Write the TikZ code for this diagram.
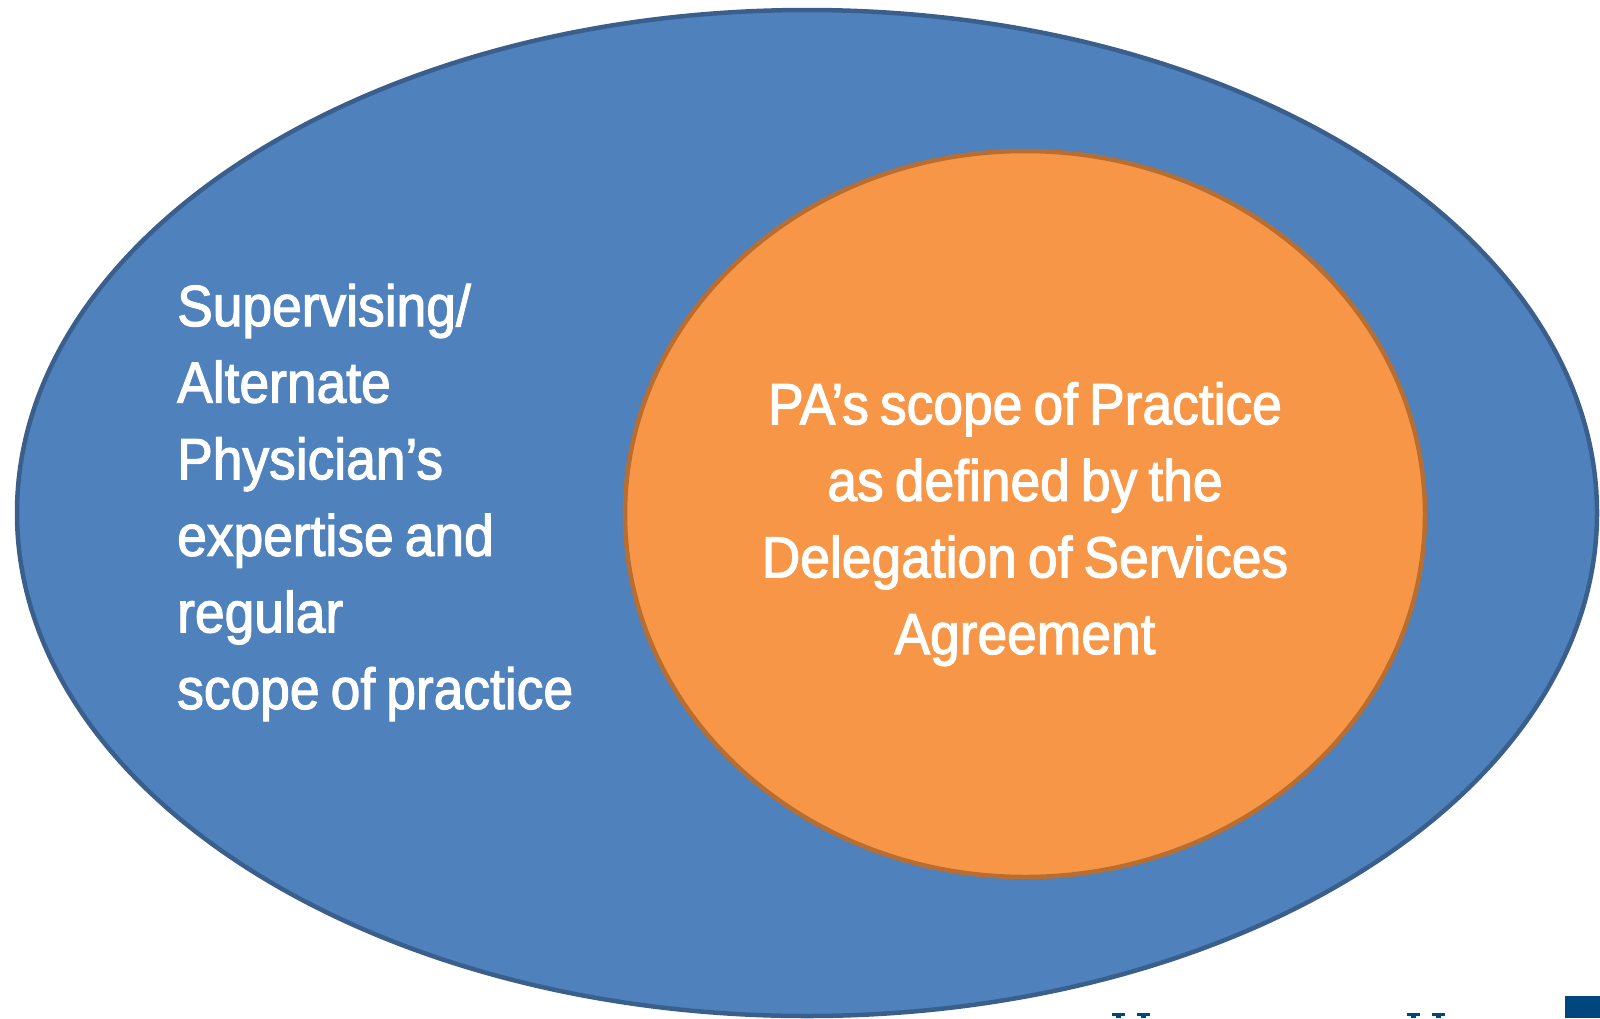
\documentclass[tikz,border=0pt]{standalone}
\usepackage{fontspec}
\usetikzlibrary{shapes.geometric}
\newfontfamily\labelfont{Liberation Sans}[FakeStretch=0.92,FakeBold=2,WordSpace=0.75]
\definecolor{outerfill}{HTML}{4F81BD}
\definecolor{outerline}{HTML}{3A5F8D}
\definecolor{innerfill}{HTML}{F79646}
\definecolor{innerline}{HTML}{B86D31}
\definecolor{logoblue}{HTML}{00467F}
\begin{document}
\begin{tikzpicture}[x=1pt,y=-1pt,
  scopeoval/.style={ellipse,inner sep=0pt,outer sep=0pt},
  ovaltext/.style={text=white,font=\labelfont\fontsize{58}{76.6}\selectfont,inner sep=0pt}]
\useasboundingbox (0,0) rectangle (1600,1018);
% outer oval: physician's scope
\node[scopeoval,fill=outerfill,draw=outerline,line width=4.5pt,
      minimum width=1580pt,minimum height=1006pt] (outer) at (807,513) {};
% inner oval: PA's scope
\node[scopeoval,fill=innerfill,draw=innerline,line width=4.5pt,
      minimum width=800pt,minimum height=726pt] (inner) at (1025,514) {};
% labels (base anchor sits on the last line)
\node[ovaltext,align=left,anchor=base west] (outerlabel) at (177,709)
  {Supervising/\\Alternate\\Physician’s\\expertise and\\regular\\scope of practice};
\node[ovaltext,align=center,anchor=base] (innerlabel) at (1025,654)
  {PA’s scope of Practice\\as defined by the\\Delegation of Services\\Agreement};
% logo fragments along the bottom edge
\fill[logoblue] (1565,996) rectangle (1600,1018);
\foreach \sx in {1112,1137,1407,1432}{
  \fill[logoblue] (\sx,1013) rectangle ++(13,2.5);
  \fill[logoblue] (\sx+4,1013) rectangle ++(5,5);
}
\end{tikzpicture}
\end{document}
